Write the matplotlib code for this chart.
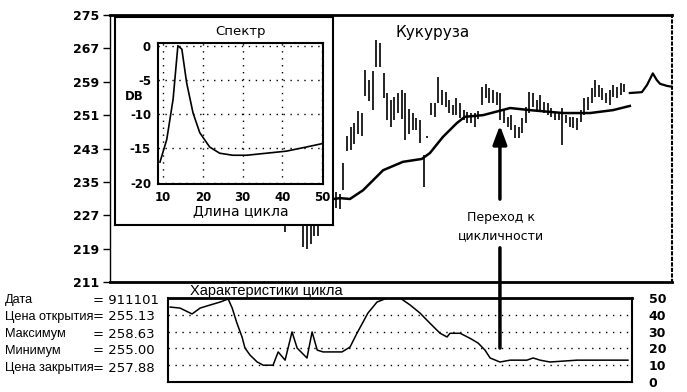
import numpy as np
import matplotlib
matplotlib.use("Agg")
import matplotlib.pyplot as plt
from matplotlib.patches import ConnectionPatch

# ---- data ----
# daily bars (high / low), index 0 = first bar
bar_high = [230, 232, 233, 231, 230, 226, 227, 226, 227, 229,
            231, 232, 233, 234, 232.5, 232, 239.5, 246, 248.2, 249,
            252, 251.5, 261.8, 259.5, 261.5, 269, 268.3, 261, 256.3, 254.6,
            255.3, 256.3, 257, 256.3, 252.5, 251.5, 250.3, 249.8, 241.5, 246,
            253.9, 254, 260.1, 257, 256.5, 254.6, 253.4, 255, 254, 252.2,
            251.7, 251.5, 251.5, 252, 257.7, 258.5, 257.5, 257, 256.5, 256.3,
            252.2, 250.6, 251, 248.7, 248.2, 250.3, 252.9, 256.5, 256.3, 254.6,
            255.8, 254.2, 253.9, 252.7, 251.7, 251.5, 252.7, 251, 250.6, 250.6,
            250.3, 252.2, 255, 255.3, 257.5, 259.4, 258.2, 257.5, 256.3, 257,
            258.2, 257.7, 258.7, 258.5]
bar_low = [223, 226, 227, 226, 225.5, 219.5, 219, 220, 222, 222,
           226, 227, 228, 229, 228.8, 228.5, 233, 242.5, 242.6, 244,
           246.5, 246, 255.5, 254.5, 252.2, 262.5, 262.5, 255, 249.8, 248.2,
           249.8, 251.5, 250, 245, 246.5, 247.4, 247.5, 244.3, 233.8, 245.5,
           251, 250.5, 253.9, 253.4, 253, 251.5, 251, 251, 250.3, 249.8,
           249.1, 249, 248.2, 250, 253.4, 255, 253.9, 254, 253.4, 249.8,
           249.1, 248.2, 247.4, 245.6, 245.6, 246.7, 249.1, 251.5, 253, 252.2,
           252.2, 251.5, 251, 250.6, 249.8, 249.8, 243.8, 249.1, 248.2, 248,
           247.4, 249.3, 251, 252.2, 253.9, 255.3, 255.3, 254.6, 253.9, 253.4,
           255.3, 255, 255.8, 256.5]

# smoothed (cycle) line over the bars
smooth_day = [13.2, 15.1, 17.8, 21.4, 26.9, 32.3, 37.5, 39.7, 43.3, 47.1,
              49.3, 54.3, 61.7, 67.1, 76.2, 83.6, 89.9, 94.5]
smooth_price = [230.9, 231.1, 230.9, 233.0, 237.8, 239.8, 240.5, 241.9, 245.8, 249.1,
                250.6, 251.0, 252.7, 252.2, 251.5, 251.5, 252.2, 253.2]

# closing line after the last bar
close_day = [94.5, 97.8, 99.2, 100.8, 101.9, 102.8, 104.7, 106.1]
close_price = [256.3, 256.5, 258.2, 261.0, 259.4, 258.5, 258.0, 257.8]

# spectrum inset
spec_len = [9.2, 10.9, 12.5, 13.7, 14.7, 15.9, 17.5, 19.2, 21.7, 24.2,
            27.5, 31, 36, 41, 46, 50]
spec_db = [-17.0, -13.7, -7.8, 0, -0.5, -5.4, -9.8, -12.7, -14.8, -15.7,
           -16.0, -16.0, -15.7, -15.4, -14.8, -14.3]

# cycle length panel
cyc_day = [-31.5, -28.8, -25.5, -23.3, -20.6, -17.8, -15.6, -14.5, -13.2, -11.8,
           -11.0, -9.6, -7.7, -6.0, -3.3, -1.9, 0, 1.9, 3.3, 6.0,
           7.4, 8.8, 10.4, 15.6, 17.8, 19.7, 22.7, 25.2, 28.0, 31.5,
           32.3, 34.3, 37.0, 39.7, 42.5, 44.4, 45.2, 48.0, 50.7, 52.9,
           54.8, 56.2, 58.9, 61.7, 66.3, 68.0, 69.9, 72.6, 80.0, 94.0]
cyc_len = [44.6, 44, 40.5, 44, 45.8, 47.6, 49.4, 44, 35, 26.8,
           20.2, 16, 12, 10, 10, 17.9, 13, 29.8, 20.2, 14.3,
           29.8, 19, 17.9, 17.9, 20.8, 29, 41, 47.6, 50, 50,
           48.8, 45.8, 41, 35, 29, 26.8, 29, 29, 26, 23.2,
           19, 14.3, 11.9, 13, 13, 14.3, 13, 11.9, 13, 13]

price_ticks = [211, 219, 227, 235, 243, 251, 259, 267, 275]
spec_xticks = [10, 20, 30, 40, 50]
spec_yticks = [0, -5, -10, -15, -20]
cyc_ticks = [0, 10, 20, 30, 40, 50]
info_names = ["Дата", "Цена открытия", "Максимум", "Минимум", "Цена закрытия"]
info_values = ["911101", "255.13", "258.63", "255.00", "257.88"]
arrow_day = 58.9

W, H = 687, 392
NARROW = ["Liberation Sans Narrow", "Liberation Sans", "DejaVu Sans"]


def box(l, t, r, b):
    # pixel box -> figure fraction
    return [l / W, 1 - b / H, (r - l) / W, (b - t) / H]


fig = plt.figure(figsize=(W / 100, H / 100), dpi=100)
fig.patch.set_facecolor("white")

# ---- main price panel ----
ax = fig.add_axes(box(110, 15, 672, 282))
days = np.arange(len(bar_high))
ax.vlines(days, bar_low, bar_high, color="black", lw=1.2)
ax.plot(smooth_day, smooth_price, color="black", lw=1.8)
ax.plot(close_day, close_price, color="black", lw=1.6)
ax.set_xlim(-47.96, 106.06)
ax.set_ylim(211, 275)
ax.set_yticks(price_ticks)
ax.set_yticklabels([str(t) for t in price_ticks], fontsize=9, fontweight="bold")
ax.set_xticks([])
ax.tick_params(axis="y", left=True, length=5, width=1, pad=3)
ax.spines["top"].set_linewidth(2)
ax.spines["bottom"].set_linewidth(2)
ax.spines["left"].set_linewidth(1)
ax.spines["right"].set_linestyle(":")
ax.spines["right"].set_linewidth(1.5)
ax.text(40.5, 270.9, "Кукуруза", fontsize=11, ha="center", va="center")
ax.annotate("", xy=(arrow_day, 249.2), xytext=(arrow_day, 230.2),
            arrowprops=dict(arrowstyle="-|>,head_length=0.8,head_width=0.3",
                            lw=2.5, color="black", mutation_scale=14))
ax.text(arrow_day + 0.3, 224.2, "Переход к\nцикличности", fontsize=9,
        ha="center", va="center", linespacing=1.5)

# ---- spectrum inset ----
frame = fig.add_axes(box(115, 17, 333, 225))
frame.set_xticks([])
frame.set_yticks([])
for s in frame.spines.values():
    s.set_linewidth(1.5)
frame.set_zorder(3)
frame.set_facecolor("white")

sp = fig.add_axes(box(158, 43, 323, 184))
sp.set_zorder(4)
sp.plot(spec_len, spec_db, color="black", lw=1.2)
sp.set_xlim(8.7, 50.2)
sp.set_ylim(-20.2, 0.4)
sp.set_xticks(spec_xticks)
sp.set_yticks(spec_yticks)
sp.set_yticklabels([str(t) for t in spec_yticks])
sp.tick_params(length=0, labelsize=8.5, pad=5)
for lab in sp.get_xticklabels() + sp.get_yticklabels():
    lab.set_fontweight("bold")
sp.grid(True, linestyle=(0, (1, 4)), color="black", lw=1)
for s in sp.spines.values():
    s.set_linewidth(1.5)
sp.set_title("Спектр", fontsize=9.5, pad=6)
sp.set_xlabel("Длина цикла", fontsize=10, labelpad=0)
sp.text(-0.2, 0.62, "DB", transform=sp.transAxes, fontsize=8.5,
        fontweight="bold", ha="left", va="center")

# ---- cycle length panel ----
cx = fig.add_axes(box(168, 298, 632, 382))
cx.plot(cyc_day, cyc_len, color="black", lw=1.1)
cx.set_xlim(-32.1, 95.1)
cx.set_ylim(0, 50)
cx.set_xticks([])
cx.set_yticks(cyc_ticks)
cx.yaxis.tick_right()
cx.tick_params(axis="y", length=0, pad=12, labelsize=9)
for lab in cx.get_yticklabels():
    lab.set_fontweight("bold")
cx.grid(True, axis="y", linestyle=(0, (1, 4)), color="black", lw=1)
for s in cx.spines.values():
    s.set_linewidth(1.5)
cx.spines["top"].set_linewidth(2)
cx.text(0.048, 1.0, "Характеристики цикла", transform=cx.transAxes,
        fontsize=10.5, ha="left", va="bottom", family=NARROW)

# connector of the arrow down into the cycle panel
con = ConnectionPatch(xyA=(arrow_day, 219.2), coordsA=ax.transData,
                      xyB=(arrow_day, 20.2), coordsB=cx.transData,
                      color="black", lw=2.5)
fig.add_artist(con)

# info text on the left
for i, (name, val) in enumerate(zip(info_names, info_values)):
    y = 1 - (300 + i * 17) / H
    fig.text(5 / W, y, name, fontsize=9.2, ha="left", va="center", family=NARROW)
    fig.text(93 / W, y, "= " + val, fontsize=9.5, ha="left", va="center")

fig.savefig("out.png", dpi=100)
